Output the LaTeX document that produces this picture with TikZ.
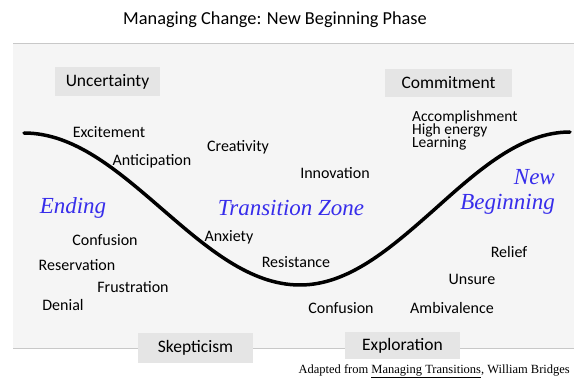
\documentclass[tikz,border=0pt]{standalone}
\usepackage{fontspec}
\setmainfont{Carlito}
\newfontfamily\phasefont{Liberation Serif}
\newfontfamily\notefont{Liberation Serif}
\usepackage{tikz}
\definecolor{panelgray}{RGB}{245,245,245}
\definecolor{boxgray}{RGB}{229,229,229}
\definecolor{linegray}{RGB}{200,200,200}
\definecolor{phaseblue}{RGB}{55,45,235}

\begin{document}
\begin{tikzpicture}[x=1pt, y=-1pt, word/.style={font=\fontsize{16}{16}\selectfont, inner sep=0pt}, listword/.style={word, anchor=base west, font=\fontsize{15.5}{15.5}\selectfont}, box/.style={rectangle, fill=boxgray, inner sep=0pt, font=\fontsize{17.5}{17.5}\selectfont}, phase/.style={font=\phasefont\itshape\fontsize{23}{25}\selectfont, text=phaseblue, inner sep=0pt}, rule/.style={draw=linegray, line width=1pt}, wave/.style={line width=3.5pt, line cap=round}]
            \useasboundingbox (0,0) rectangle (574,382);
            % panel
            \fill[panelgray] (13,44) rectangle (574,349);
            \draw[rule] (13,44) -- (574,44);
            \draw[rule] (13,349) -- (574,349);
            \node[font=\fontsize{18.3}{18.3}\selectfont] (title) at (275,20) {Managing Change: New Beginning Phase};

            % curve
            \coordinate (top1) at (24,133);
            \coordinate (mid1) at (162,209);
            \coordinate (low) at (300,285);
            \coordinate (mid2) at (435,209);
            \coordinate (top2) at (570,132);
            \draw[wave] (top1) cos (mid1) sin (low) cos (mid2) sin (top2);

            % boxes
            \node[box, minimum width=105pt, minimum height=29pt] (uncert) at (107.5,81.5) {Uncertainty};
            \node[box, minimum width=127pt, minimum height=28pt] (commit) at (448.5,83) {Commitment};
            \node[box, minimum width=115pt, minimum height=30pt] (skept) at (195.5,348) {Skepticism};
            \node[box, minimum width=115pt, minimum height=27pt] (explor) at (402.5,345.5) {Exploration};

            % phases
            \node[phase] (ending) at (73,208) {Ending};
            \node[phase] (zone) at (291,208) {Transition Zone};
            \node[phase, align=right, anchor=east] (newbeg) at (555,192) {New\\Beginning};

            % words
            \node[word] (excite) at (109,132) {Excitement};
            \node[word] (antic) at (152,161) {Anticipation};
            \node[word] (creat) at (238,147) {Creativity};
            \node[word] (innov) at (335,173) {Innovation};
            \node[listword] (accomp) at (412,121.5) {Accomplishment};
            \node[listword] (energy) at (412,134.5) {High energy};
            \node[listword] (learn) at (412,147.5) {Learning};
            \node[word] (confl) at (105,240) {Confusion};
            \node[word] (reserv) at (77,265) {Reservation};
            \node[word] (frustr) at (133,287) {Frustration};
            \node[word] (denial) at (63,305) {Denial};
            \node[word] (anxiety) at (229,237) {Anxiety};
            \node[word] (resist) at (296,262) {Resistance};
            \node[word] (confr) at (341,308) {Confusion};
            \node[word] (ambiv) at (452,308) {Ambivalence};
            \node[word] (unsure) at (472,279) {Unsure};
            \node[word] (relief) at (509,252) {Relief};

            % source
            \node[font=\notefont\fontsize{12.5}{12.5}\selectfont, anchor=east, inner sep=0pt] (source) at (570,371) {Adapted from \underline{Managing Transitions}, William Bridges};
        \end{tikzpicture}
\end{document}
